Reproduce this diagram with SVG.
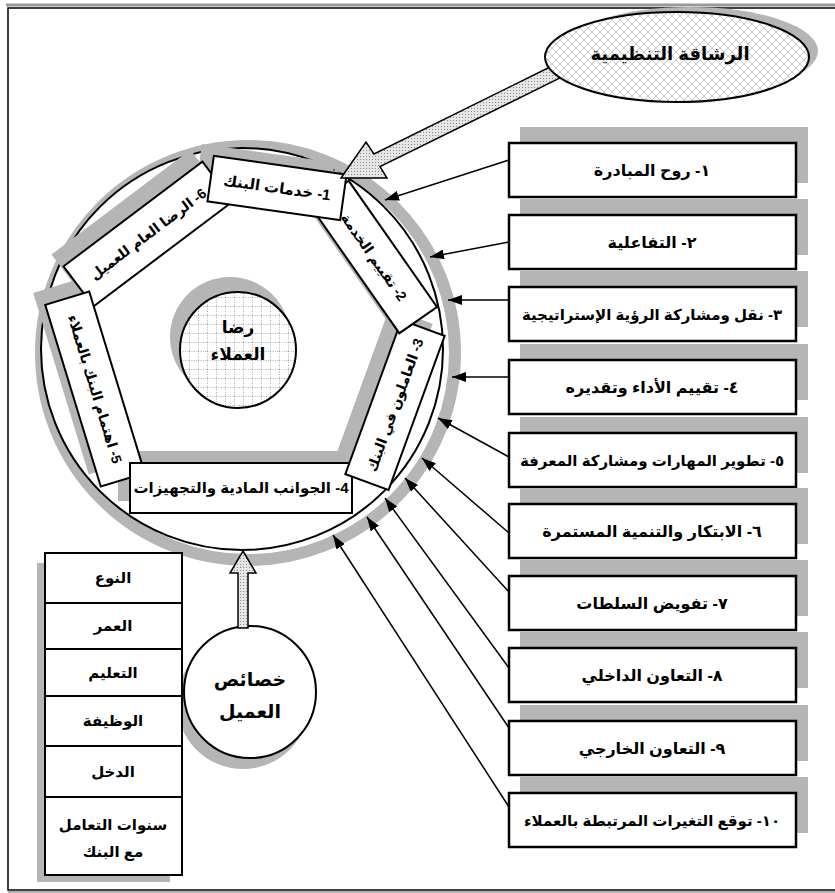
<svg xmlns="http://www.w3.org/2000/svg" width="835" height="893" viewBox="0 0 835 893">
<defs>
<style>
.t{font-family:"Liberation Sans","DejaVu Sans","Noto Sans",sans-serif;font-weight:bold;fill:#000;direction:rtl;unicode-bidi:embed;text-anchor:middle}
.box{fill:#fff;stroke:#000;stroke-width:2.5}
.pbox{fill:#fff;stroke:#000;stroke-width:2}
.sh{fill:#b5b5b5}
.con{stroke:#000;stroke-width:1.5;fill:none;marker-end:url(#ah)}
</style>
<marker id="ah" viewBox="0 0 14 10" refX="14" refY="5" markerWidth="14" markerHeight="10" markerUnits="userSpaceOnUse" orient="auto"><path d="M0,0 L14,5 L0,10 z" fill="#000"/></marker>
<pattern id="hatch" width="8" height="8" patternUnits="userSpaceOnUse"><rect width="8" height="8" fill="#fff"/><path d="M0,0 L8,8 M8,0 L0,8" stroke="#bbb" stroke-width="0.8"/></pattern>
<pattern id="grid" width="9" height="9" patternUnits="userSpaceOnUse"><rect width="9" height="9" fill="#fff"/><path d="M0,0.5 H9 M0.5,0 V9" stroke="#999" stroke-width="0.8" stroke-dasharray="1,1.5"/></pattern>
<pattern id="dots" width="3" height="3" patternUnits="userSpaceOnUse"><rect width="3" height="3" fill="#e6e6e6"/><rect width="1" height="1" fill="#8a8a8a"/></pattern>
</defs>
<rect width="835" height="893" fill="#fff"/>
<!-- frame -->
<g id="frame">
<line x1="6" y1="5" x2="835" y2="5" stroke="#999" stroke-width="3"/>
<path d="M835,8 H8 V890 H835" fill="none" stroke="#000" stroke-width="1.5"/>
<line x1="8" y1="892" x2="835" y2="892" stroke="#999" stroke-width="1.5"/>
</g>

<!-- big circle -->
<g id="outer-circle">
<circle cx="248" cy="353" r="207" fill="none" stroke="#b5b5b5" stroke-width="12"/>
<circle cx="242" cy="349" r="201" fill="#fff" stroke="#000" stroke-width="2"/>
</g>

<!-- inner circle -->
<g id="customer-satisfaction">
<circle cx="230" cy="337" r="60" fill="#b5b5b5"/>
<circle cx="238" cy="350" r="58" fill="url(#grid)" stroke="#000" stroke-width="2"/>
<text class="t" x="238" y="333" font-size="17">رضا</text>
<text class="t" x="238" y="360" font-size="17">العملاء</text>
</g>

<!-- pentagon shadows -->
<g id="pentagon-shadows" class="sh">
<rect x="-67" y="-23" width="134" height="46" transform="translate(265,176) rotate(8)"/>
<rect x="-77" y="-23" width="154" height="46" transform="translate(362,245) rotate(55)"/>
<rect x="-82" y="-23" width="164" height="46" transform="translate(383,393) rotate(-70)"/>
<rect x="118" y="451" width="222" height="50"/>
<rect x="-95" y="-23" width="190" height="46" transform="translate(83,377) rotate(73)"/>
<rect x="-87" y="-25" width="174" height="50" transform="translate(136,222) rotate(-37)"/>
</g>

<g id="p6" transform="translate(148,234) rotate(-37)">
<rect class="pbox" x="-87" y="-25" width="174" height="50"/>
<text class="t" x="0" y="5" font-size="14">6- الرضا العام للعميل</text>
</g>
<g id="p5" transform="translate(95,389) rotate(73)">
<rect class="pbox" x="-95" y="-23" width="190" height="46"/>
<text class="t" x="0" y="5" font-size="14">5- اهتمام البنك بالعملاء</text>
</g>
<g id="p4">
<rect class="pbox" x="130" y="463" width="222" height="50"/>
<text class="t" x="241" y="493" font-size="15">4-  الجوانب المادية والتجهيزات</text>
</g>
<g id="p3" transform="translate(395,405) rotate(-70)">
<rect class="pbox" x="-82" y="-23" width="164" height="46"/>
<text class="t" x="0" y="5" font-size="14">3- العاملون في البنك</text>
</g>
<g id="p2" transform="translate(374,257) rotate(55)">
<rect class="pbox" x="-77" y="-23" width="154" height="46"/>
<text class="t" x="0" y="5" font-size="14">2- تقييم الخدمة</text>
</g>
<g id="p1" transform="translate(277,188) rotate(8)">
<rect class="pbox" x="-67" y="-23" width="134" height="46"/>
<text class="t" x="0" y="5" font-size="15">1- خدمات البنك</text>
</g>

<!-- block arrow from agility ellipse -->
<g id="agility-arrow">
<polygon points="553,65.5 374,154 366,142 341,178 387,178 380,166.6 559,78.5" fill="url(#dots)" stroke="#000" stroke-width="1.5" stroke-linejoin="miter"/>
</g>

<!-- agility ellipse -->
<g id="agility">
<ellipse cx="690" cy="51" rx="128" ry="44" fill="#b5b5b5"/>
<ellipse cx="677" cy="57" rx="132" ry="45" fill="url(#hatch)" stroke="#000" stroke-width="2"/>
<text class="t" x="670" y="60" font-size="18">الرشاقة التنظيمية</text>
</g>

<!-- right boxes -->
<g id="r1"><rect class="sh" x="520" y="127" width="288" height="56"/><rect class="box" x="509" y="143" width="287" height="54"/><text class="t" x="652" y="176" font-size="16">١- روح المبادرة</text></g>
<g id="r2"><rect class="sh" x="520" y="199" width="288" height="56"/><rect class="box" x="509" y="215" width="287" height="54"/><text class="t" x="652" y="248" font-size="16">٢- التفاعلية</text></g>
<g id="r3"><rect class="sh" x="520" y="271" width="288" height="56"/><rect class="box" x="509" y="287" width="287" height="54"/><text class="t" x="652" y="320" font-size="15">٣- نقل ومشاركة الرؤية الإستراتيجية</text></g>
<g id="r4"><rect class="sh" x="520" y="344" width="288" height="56"/><rect class="box" x="509" y="360" width="287" height="54"/><text class="t" x="652" y="393" font-size="16">٤- تقييم الأداء وتقديره</text></g>
<g id="r5"><rect class="sh" x="520" y="417" width="288" height="56"/><rect class="box" x="509" y="433" width="287" height="54"/><text class="t" x="652" y="466" font-size="15">٥- تطوير المهارات ومشاركة المعرفة</text></g>
<g id="r6"><rect class="sh" x="520" y="488" width="288" height="56"/><rect class="box" x="509" y="504" width="287" height="54"/><text class="t" x="652" y="537" font-size="16">٦- الابتكار والتنمية المستمرة</text></g>
<g id="r7"><rect class="sh" x="520" y="560" width="288" height="56"/><rect class="box" x="509" y="576" width="287" height="54"/><text class="t" x="652" y="609" font-size="16">٧- تفويض السلطات</text></g>
<g id="r8"><rect class="sh" x="520" y="632" width="288" height="56"/><rect class="box" x="509" y="648" width="287" height="54"/><text class="t" x="652" y="681" font-size="16">٨- التعاون الداخلي</text></g>
<g id="r9"><rect class="sh" x="520" y="705" width="288" height="56"/><rect class="box" x="509" y="721" width="287" height="54"/><text class="t" x="652" y="754" font-size="16">٩- التعاون الخارجي</text></g>
<g id="r10"><rect class="sh" x="520" y="777" width="288" height="56"/><rect class="box" x="509" y="793" width="287" height="54"/><text class="t" x="652" y="826" font-size="15">١٠- توقع التغيرات المرتبطة بالعملاء</text></g>

<!-- connectors -->
<g id="connectors">
<line class="con" x1="509" y1="160" x2="385" y2="200"/>
<line class="con" x1="509" y1="242" x2="430" y2="257"/>
<line class="con" x1="509" y1="300" x2="448" y2="300"/>
<line class="con" x1="509" y1="377" x2="452" y2="377"/>
<line class="con" x1="509" y1="457" x2="438" y2="418"/>
<line class="con" x1="509" y1="533" x2="422" y2="458"/>
<line class="con" x1="509" y1="592" x2="405" y2="478"/>
<line class="con" x1="509" y1="668" x2="385" y2="498"/>
<line class="con" x1="509" y1="728" x2="367" y2="517"/>
<line class="con" x1="509" y1="807" x2="333" y2="535"/>
</g>

<!-- client characteristics -->
<g id="characteristics">
<circle cx="243" cy="703" r="66" fill="#b5b5b5"/>
<circle cx="250" cy="692" r="66" fill="#fff" stroke="#000" stroke-width="2"/>
<text class="t" x="250" y="686" font-size="19">خصائص</text>
<text class="t" x="250" y="718" font-size="19">العميل</text>
</g>
<g id="up-arrow">
<polygon points="238,628 238,573 230,573 243,551 256,573 248,573 248,628" fill="url(#dots)" stroke="#000" stroke-width="1.5"/>
</g>

<!-- left stack -->
<g id="stack-shadow"><rect class="sh" x="37" y="563" width="133" height="319"/></g>
<g id="s1"><rect class="pbox" x="45" y="553" width="137" height="50"/><text class="t" x="113" y="583" font-size="15">النوع</text></g>
<g id="s2"><rect class="pbox" x="45" y="603" width="137" height="46"/><text class="t" x="113" y="631" font-size="15">العمر</text></g>
<g id="s3"><rect class="pbox" x="45" y="649" width="137" height="47"/><text class="t" x="113" y="678" font-size="15">التعليم</text></g>
<g id="s4"><rect class="pbox" x="45" y="696" width="137" height="50"/><text class="t" x="113" y="726" font-size="15">الوظيفة</text></g>
<g id="s5"><rect class="pbox" x="45" y="746" width="137" height="51"/><text class="t" x="113" y="777" font-size="15">الدخل</text></g>
<g id="s6"><rect class="pbox" x="45" y="797" width="137" height="78"/><text class="t" x="113" y="830" font-size="15">سنوات التعامل</text><text class="t" x="113" y="857" font-size="15">مع البنك</text></g>
</svg>
